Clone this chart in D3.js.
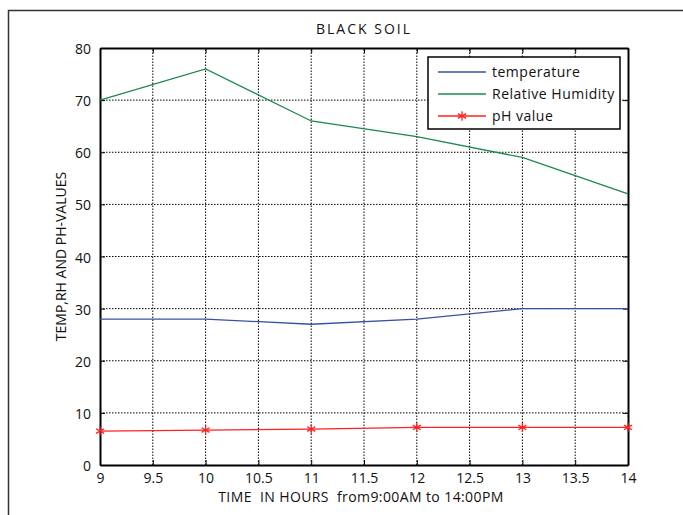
<!DOCTYPE html>
<html>
<head>
<meta charset="utf-8">
<script src="https://cdn.jsdelivr.net/npm/d3@7"></script>
<style>
  body { margin: 0; background: #fff; }
  text { font-family: "Open Sans", "DejaVu Sans", sans-serif; fill: #111; }
</style>
</head>
<body>
<script>
// chart data
const hours = [9, 10, 11, 12, 13, 14];
const temperature = [28, 28, 27, 28, 30, 30];
const humidity = [70, 76, 66, 63, 59, 52];
const phValue = [6.5, 6.7, 6.9, 7.2, 7.2, 7.2];
const xTicks = [9, 9.5, 10, 10.5, 11, 11.5, 12, 12.5, 13, 13.5, 14];
const yTicks = [0, 10, 20, 30, 40, 50, 60, 70, 80];
const seriesNames = ["temperature", "Relative Humidity", "pH value"];

const width = 683, height = 515;
const margin = {left: 100, right: 55, top: 48, bottom: 50};

const svg = d3.select("body").append("svg")
    .attr("width", width)
    .attr("height", height);

// outer figure frame (runs off the right and bottom of the picture)
svg.append("rect")
    .attr("x", 8.5).attr("y", 10.5)
    .attr("width", 700).attr("height", 540)
    .attr("fill", "none")
    .attr("stroke", "#333")
    .attr("stroke-width", 1.5);

const x = d3.scaleLinear().domain([9, 14]).range([margin.left, width - margin.right]);
const y = d3.scaleLinear().domain([0, 80]).range([height - margin.bottom, margin.top]);

// dotted grid
svg.append("g").selectAll("line")
    .data(xTicks.slice(1, -1))
    .join("line")
    .attr("x1", d => x(d)).attr("x2", d => x(d))
    .attr("y1", y(0)).attr("y2", y(80))
    .attr("stroke", "#000").attr("stroke-width", 1)
    .attr("stroke-dasharray", "1.5,1.5");
svg.append("g").selectAll("line")
    .data(yTicks.slice(1, -1))
    .join("line")
    .attr("x1", x(9)).attr("x2", x(14))
    .attr("y1", d => y(d)).attr("y2", d => y(d))
    .attr("stroke", "#000").attr("stroke-width", 1)
    .attr("stroke-dasharray", "1.5,1.5");

// axes with inward ticks on all four sides
const tickFmt = d3.format("~g");
const bottomAxis = svg.append("g")
    .attr("transform", `translate(0,${y(0)})`)
    .call(d3.axisBottom(x).tickValues(xTicks).tickFormat(tickFmt).tickSizeInner(-5).tickSizeOuter(0).tickPadding(8));
const leftAxis = svg.append("g")
    .attr("transform", `translate(${x(9)},0)`)
    .call(d3.axisLeft(y).tickValues(yTicks).tickSizeInner(-5).tickSizeOuter(0).tickPadding(9));
const topAxis = svg.append("g")
    .attr("transform", `translate(0,${y(80)})`)
    .call(d3.axisTop(x).tickValues(xTicks).tickFormat("").tickSizeInner(-5).tickSizeOuter(0));
const rightAxis = svg.append("g")
    .attr("transform", `translate(${x(14)},0)`)
    .call(d3.axisRight(y).tickValues(yTicks).tickFormat("").tickSizeInner(-5).tickSizeOuter(0));

[bottomAxis, leftAxis, topAxis, rightAxis].forEach(g => {
    g.select(".domain").attr("stroke", "#000").attr("stroke-width", 2);
    g.selectAll(".tick line").attr("stroke", "#000");
    g.selectAll(".tick text")
        .style("font-family", "'Open Sans', 'DejaVu Sans', sans-serif")
        .style("font-size", "14px")
        .attr("fill", "#111");
});
leftAxis.selectAll(".tick text").attr("dy", "0.4em");

// lines
const colors = ["#3553a3", "#1b8a4c", "#ff2020"];
const series = [temperature, humidity, phValue];
const line = d3.line().x((d, i) => x(hours[i])).y(d => y(d));

series.forEach((vals, k) => {
    svg.append("path")
        .datum(vals)
        .attr("d", line)
        .attr("fill", "none")
        .attr("stroke", colors[k])
        .attr("stroke-width", 1.3);
});

// star markers for pH
const star = d3.symbol().type(d3.symbolAsterisk).size(60);
svg.append("g").selectAll("path")
    .data(phValue)
    .join("path")
    .attr("transform", (d, i) => `translate(${x(hours[i])},${y(d)})`)
    .attr("d", star)
    .attr("fill", "none")
    .attr("stroke", colors[2])
    .attr("stroke-width", 1.3);

// title and axis labels
svg.append("text")
    .attr("x", (x(9) + x(14)) / 2).attr("y", 34)
    .attr("text-anchor", "middle")
    .style("font-size", "14px")
    .style("letter-spacing", "2px")
    .text("BLACK SOIL");

svg.append("text")
    .attr("x", (x(9) + x(14)) / 2 - 3).attr("y", 502)
    .attr("text-anchor", "middle")
    .style("font-size", "14px")
    .style("letter-spacing", "0.4px")
    .style("white-space", "pre")
    .text("TIME  IN HOURS  from9:00AM to 14:00PM");

svg.append("text")
    .attr("transform", `translate(66,${(y(0) + y(80)) / 2}) rotate(-90)`)
    .attr("text-anchor", "middle")
    .style("font-size", "14px")
    .text("TEMP,RH AND PH-VALUES");

// legend
const lg = svg.append("g").attr("transform", "translate(428,57)");
lg.append("rect")
    .attr("width", 192).attr("height", 72)
    .attr("fill", "#fff")
    .attr("stroke", "#000").attr("stroke-width", 1.5);
seriesNames.forEach((name, k) => {
    const yy = 15 + k * 22;
    lg.append("line")
        .attr("x1", 10).attr("x2", 58)
        .attr("y1", yy).attr("y2", yy)
        .attr("stroke", colors[k]).attr("stroke-width", 1.3);
    if (k === 2) {
        lg.append("path")
            .attr("transform", `translate(34,${yy})`)
            .attr("d", star)
            .attr("fill", "none")
            .attr("stroke", colors[2]).attr("stroke-width", 1.3);
    }
    lg.append("text")
        .attr("x", 64).attr("y", yy + 5)
        .style("font-size", "14px")
        .style("letter-spacing", "0.5px")
        .text(name);
});
</script>
</body>
</html>
